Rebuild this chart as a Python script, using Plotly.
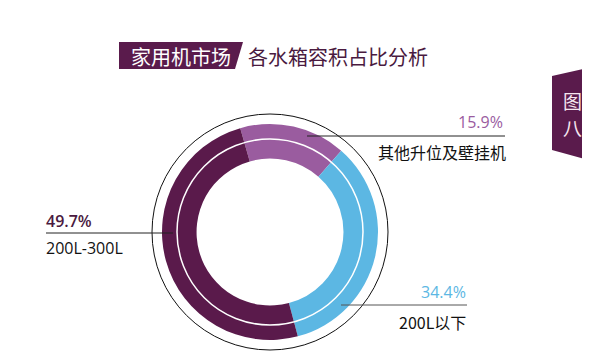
import plotly.graph_objects as go

# Data
categories = ["其他升位及壁挂机", "200L以下", "200L-300L"]
shares = [15.9, 34.4, 49.7]
share_labels = ["15.9%", "34.4%", "49.7%"]
slice_colors = ["#9a5c9f", "#5cb7e3", "#5a1a4b"]
title_tag = "家用机市场"
title_text = "各水箱容积占比分析"
tab_text = ["图", "八"]

OFF = 8  # page body margin
W, H = 590 - OFF, 360 - OFF
def px(x):
    return (x - OFF) / W
def py(y):
    return 1 - (y - OFF) / H

CJK = "Noto Sans CJK SC"
NUM = "Open Sans, Noto Sans CJK SC"

fig = go.Figure()
cx, cy, r = 270, 232, 108
fig.add_trace(go.Pie(
    values=shares, labels=categories, sort=False, direction="clockwise",
    rotation=-16, hole=0.68, textinfo="none", hoverinfo="skip",
    marker=dict(colors=slice_colors, line=dict(width=0)),
    domain=dict(x=[px(cx - r), px(cx + r)], y=[py(cy + r), py(cy - r)]),
    showlegend=False,
))

shapes = []
def circle(rad, color, width):
    shapes.append(dict(type="circle", xref="paper", yref="paper",
                       x0=px(cx - rad), x1=px(cx + rad), y0=py(cy + rad), y1=py(cy - rad),
                       line=dict(color=color, width=width), layer="above"))
circle(118, "#111111", 1)
circle(93, "#ffffff", 1.5)

def path(pts, color):
    d = "M " + " L ".join(f"{px(x)} {py(y)}" for x, y in pts) + " Z"
    shapes.append(dict(type="path", xref="paper", yref="paper", path=d,
                       fillcolor=color, line=dict(width=0), layer="below"))
path([(119, 42), (243, 42), (235, 69), (119, 69)], "#5a1b4c")
path([(552, 76), (592, 67), (592, 161), (552, 150)], "#5a1b4c")

def hline(x0, x1, y, color):
    shapes.append(dict(type="line", xref="paper", yref="paper",
                       x0=px(x0), x1=px(x1), y0=py(y), y1=py(y),
                       line=dict(color=color, width=1), layer="above"))
hline(307, 505, 136, "#222222")
hline(46, 173, 233, "#222222")
hline(341, 467, 305, "#555555")

ann = []
def text(t, x, y, size, color, xa, family=CJK, weight="normal"):
    ann.append(dict(text=t, x=px(x), y=py(y), xref="paper", yref="paper",
                    xanchor=xa, yanchor="middle", showarrow=False,
                    font=dict(family=family, size=size, color=color, weight=weight)))

text(title_tag, 181, 56, 20, "#ffffff", "center")
text(title_text, 246, 56, 20, "#4a1a40", "left")
text(tab_text[0], 572, 101, 19, "#f5e6ef", "center")
text(tab_text[1], 572, 127, 19, "#f5e6ef", "center")

text(share_labels[0], 505, 122, 16, slice_colors[0], "right", NUM)
text(categories[0], 508, 152, 16, "#111111", "right")
text(share_labels[2], 44, 221, 16, "#4a1a40", "left", NUM, 600)
text(categories[2], 44, 248, 16, "#111111", "left", NUM)
text(share_labels[1], 468, 292, 16, slice_colors[1], "right", NUM)
text(categories[1], 468, 322, 16, "#111111", "right")

fig.update_layout(width=W, height=H, margin=dict(l=0, r=0, t=0, b=0),
                  paper_bgcolor="white", plot_bgcolor="white",
                  shapes=shapes, annotations=ann)
fig.write_html("out.html")
